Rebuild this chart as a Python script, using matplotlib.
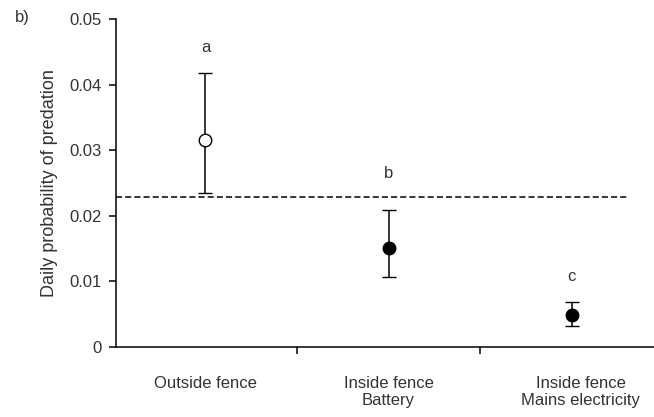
import numpy as np
import matplotlib.pyplot as plt

plt.rcParams['font.family'] = ['Liberation Sans', 'DejaVu Sans']

# data
categories = ["Outside fence", "Inside fence\nBattery", "Inside fence\nMains electricity"]
means = [0.0316, 0.0151, 0.0049]
upper = [0.0418, 0.0209, 0.0068]
lower = [0.0235, 0.0107, 0.0032]
letters = ["a", "b", "c"]
letter_y = [0.0457, 0.0265, 0.0108]
filled = [False, True, True]
overall = 0.0228

fig = plt.figure(figsize=(6.54, 4.17), dpi=100)
ax = fig.add_axes([0.177, 0.168, 0.823, 0.786])

x = np.arange(len(categories))
for i in x:
    ax.errorbar(x[i], means[i],
                yerr=[[means[i] - lower[i]], [upper[i] - means[i]]],
                fmt='o', ms=9, mec='black', mew=1.0,
                mfc='black' if filled[i] else 'white',
                ecolor='black', elinewidth=1.1, capsize=5, capthick=1.1, zorder=3)
    ax.text(x[i], letter_y[i], letters[i], ha='center', va='center', fontsize=12, color='#333333')

ax.plot([-0.49, 2.31], [overall, overall], ls=(0, (4, 2)), color='black', lw=1.1)

ax.set_xlim(-0.49, 2.45)
ax.set_ylim(0, 0.05)
ax.set_yticks([0, 0.01, 0.02, 0.03, 0.04, 0.05])
ax.set_yticklabels(["0", "0.01", "0.02", "0.03", "0.04", "0.05"], fontsize=12, color='#333333')
ax.set_xticks([0.5, 1.5])
ax.set_xticklabels([])
for i, c in enumerate(categories):
    ax.text(x[i] + (0.05 if i == 2 else 0), -0.0045, c, ha='center', va='top', fontsize=12,
            color='#333333', linespacing=1.15, clip_on=False)

ax.spines['top'].set_visible(False)
ax.spines['right'].set_visible(False)
ax.spines['left'].set_linewidth(1.1)
ax.spines['bottom'].set_linewidth(1.1)
ax.tick_params(direction='out', length=5, width=1.1, pad=5)
ax.set_ylabel("Daily probability of predation", fontsize=13, color='#333333', labelpad=8)
fig.text(0.034, 0.958, "b)", fontsize=12, color='#333333', ha='center', va='center')

fig.savefig("out.png", dpi=100)
